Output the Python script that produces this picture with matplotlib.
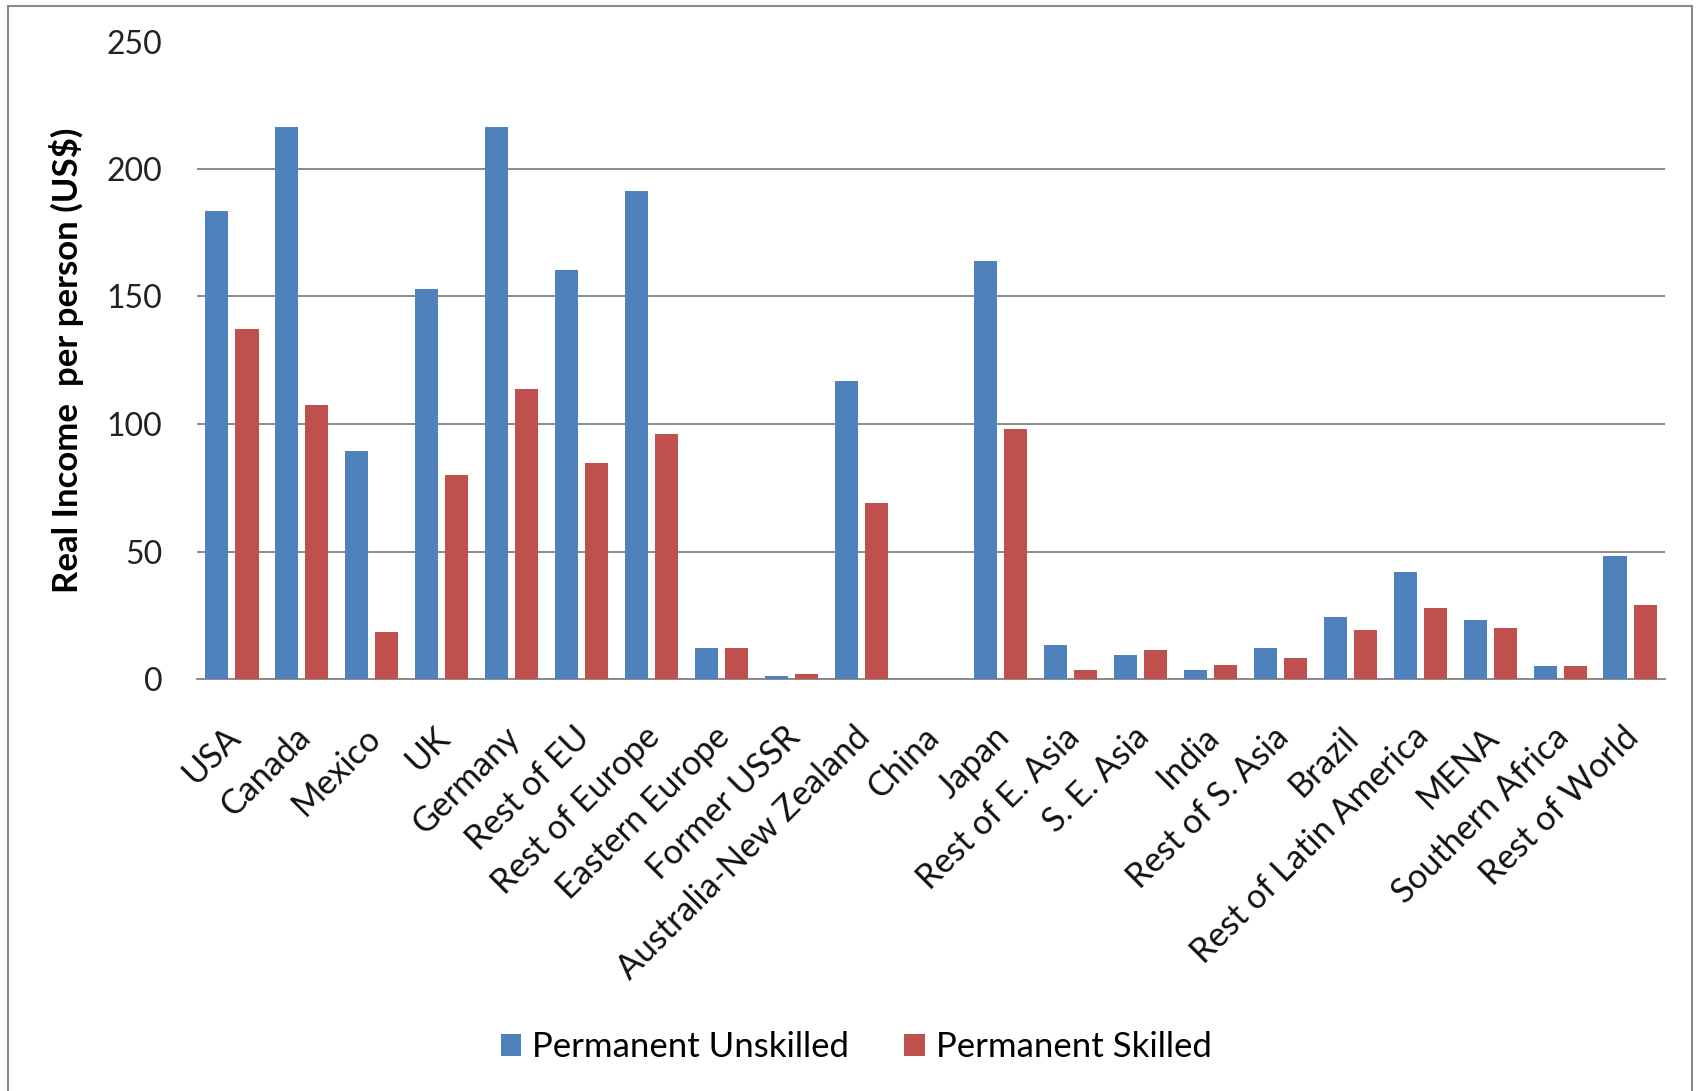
import matplotlib
matplotlib.use("Agg")
import matplotlib.pyplot as plt
import numpy as np
from matplotlib.transforms import ScaledTranslation
from matplotlib.patches import Rectangle

plt.rcParams['font.family'] = ['Lato', 'DejaVu Sans']

regions = ["USA", "Canada", "Mexico", "UK", "Germany", "Rest of EU", "Rest of Europe",
           "Eastern Europe", "Former USSR", "Australia-New Zealand", "China", "Japan",
           "Rest of E. Asia", "S. E. Asia", "India", "Rest of S. Asia", "Brazil",
           "Rest of Latin America", "MENA", "Southern Africa", "Rest of World"]
unskilled = [183.7, 216.6, 89.6, 153.1, 216.6, 160.3, 191.4, 12.1, 1.2, 117.0, 0.0, 163.9,
             13.5, 9.6, 3.5, 12.1, 24.5, 41.8, 23.1, 5.1, 48.1]
skilled = [137.2, 107.6, 18.4, 80.1, 113.9, 84.9, 96.0, 12.1, 1.9, 69.1, 0.0, 98.1,
           3.5, 11.2, 5.6, 8.2, 19.1, 27.8, 19.9, 5.1, 29.2]
series_names = ["Permanent Unskilled", "Permanent Skilled"]
yticks = [0, 50, 100, 150, 200, 250]

blue = "#4F81BD"
red = "#C0504D"

W, H = 1696, 1091
fig = plt.figure(figsize=(W / 100, H / 100), dpi=100)
ax_l, ax_r, ax_t, ax_b = 197, 1665, 41.5, 679
ax = fig.add_axes([ax_l / W, 1 - ax_b / H, (ax_r - ax_l) / W, (ax_b - ax_t) / H])

x = np.arange(len(regions))
bw = 0.33
off = 0.215
b1 = ax.bar(x - off, unskilled, bw, color=blue, label=series_names[0], zorder=3)
b2 = ax.bar(x + off, skilled, bw, color=red, label=series_names[1], zorder=3)

ax.set_xlim(-0.5, len(regions) - 0.5)
ax.set_ylim(0, 250)
ax.set_yticks(yticks)
ax.set_yticklabels([str(v) for v in yticks], fontsize=23, color="#222222")
ax.yaxis.grid(True, color="#8a8a8a", linewidth=1.4, zorder=0)
ax.set_axisbelow(True)
for s in ["top", "right", "left"]:
    ax.spines[s].set_visible(False)
ax.spines["bottom"].set_color("#8a8a8a")
ax.spines["bottom"].set_linewidth(1.4)
ax.tick_params(axis="y", length=0, pad=25)
ax.tick_params(axis="x", length=0, pad=30)

ax.set_xticks(x)
ax.set_xticklabels(regions, rotation=45, ha="right", va="top",
                   rotation_mode="anchor", fontsize=24.5, color="#111111")
for lab in ax.get_xticklabels():
    lab.set_transform(lab.get_transform() + ScaledTranslation(-8 / 100, 0, fig.dpi_scale_trans))

ax.set_ylabel("Real Income  per person (US$)", fontsize=25, fontweight="bold")
ax.yaxis.set_label_coords(-(ax_l - 84) / (ax_r - ax_l), 0.5)

leg = fig.legend(handles=[b1, b2], labels=series_names, loc="center",
                 bbox_to_anchor=(856 / W, 1 - 1047 / H), ncol=2, frameon=False,
                 fontsize=25, handlelength=0.6, handleheight=0.6, columnspacing=1.6,
                 handletextpad=0.3)

fig.patches.append(Rectangle((8 / W, -0.02), (1692 - 8) / W, 1.02 - 6 / H,
                             transform=fig.transFigure, fill=False,
                             edgecolor="#8a8a8a", linewidth=1.5))

fig.savefig("out.png", dpi=100, facecolor="white")
